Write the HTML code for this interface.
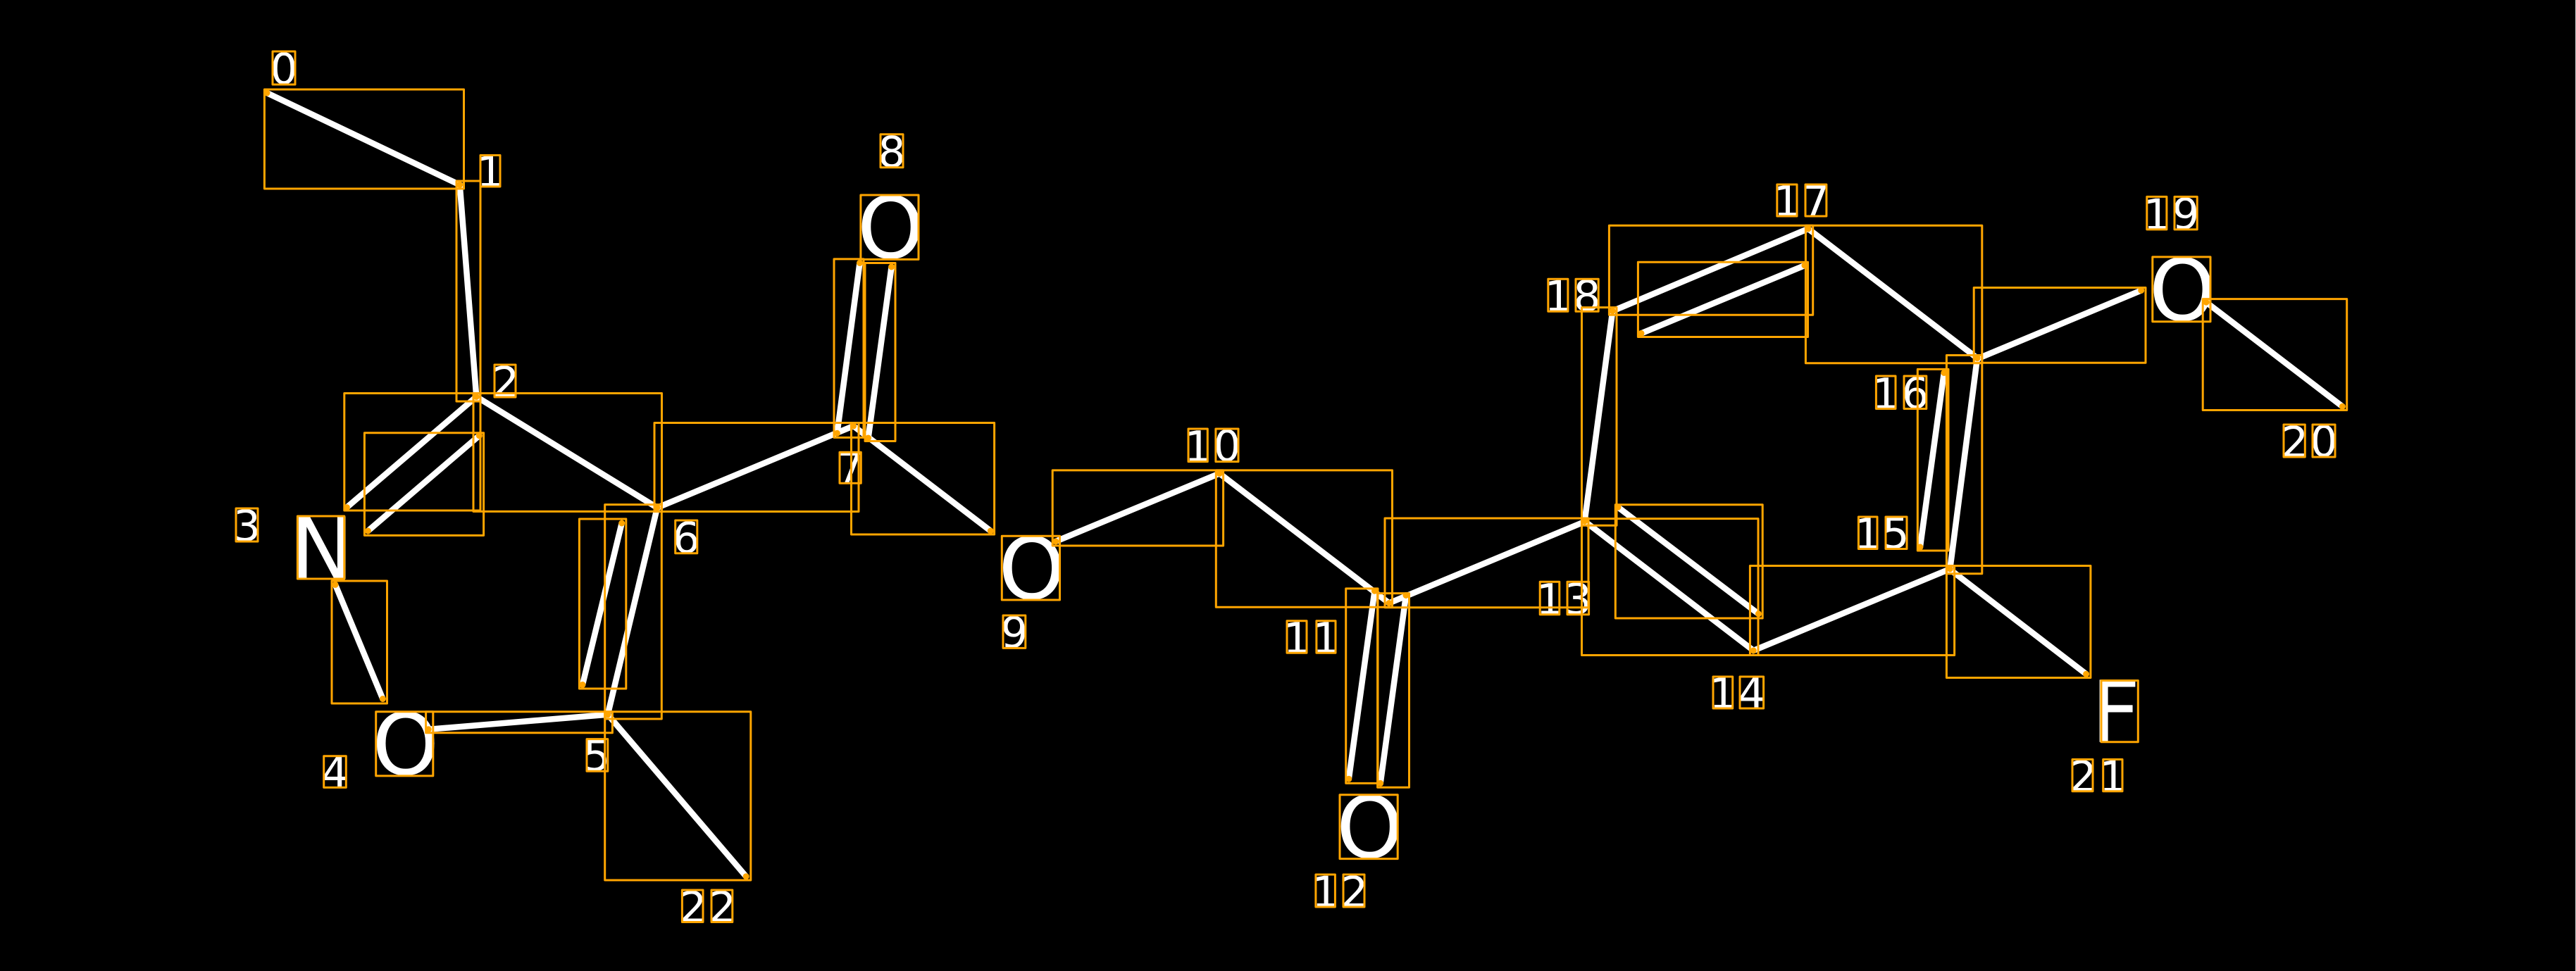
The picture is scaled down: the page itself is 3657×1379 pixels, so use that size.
<!DOCTYPE html>
<html><head><meta charset="utf-8"><style>
html,body{margin:0;padding:0;background:#000;width:3657px;height:1379px;overflow:hidden}
svg{display:block}
text{font-family:"DejaVu Sans","Liberation Sans",sans-serif;fill:#fff;text-anchor:middle}
.d{font-size:61px}.a{font-size:121px}
.o rect{fill:none;stroke:#ffa500;stroke-width:3;stroke-linejoin:round}
</style></head><body>
<svg width="3657" height="1379" viewBox="0 0 3657 1379" xmlns="http://www.w3.org/2000/svg">
<rect width="3657" height="1379" fill="#000"/>
<rect x="3656" y="0" width="1" height="1379" fill="#ccc"/>
<g>
<text class="d" x="403" y="119">0</text>
<text class="d" x="696" y="265">1</text>
<text class="d" x="717.8" y="564">2</text>
<text class="d" x="350.5" y="768">3</text>
<text class="d" x="475.5" y="1118.4">4</text>
<text class="d" x="847" y="1094.3">5</text>
<text class="d" x="974.2" y="785">6</text>
<text class="d" x="1207" y="686.2">7</text>
<text class="d" x="1266" y="237">8</text>
<text class="d" x="1440" y="919.5">9</text>
<text class="d" x="1700.6" y="655.6">1</text><text class="d" x="1742" y="654.7">0</text>
<text class="d" x="1841" y="927.3">1</text><text class="d" x="1882.4" y="927.3">1</text>
<text class="d" x="1881.6" y="1288">1</text><text class="d" x="1922.8" y="1288">2</text>
<text class="d" x="2200" y="872.7">1</text><text class="d" x="2240.3" y="871.8">3</text>
<text class="d" x="2445.8" y="1006">1</text><text class="d" x="2486.8" y="1006">4</text>
<text class="d" x="2651.7" y="779.5">1</text><text class="d" x="2691.1" y="778.6">5</text>
<text class="d" x="2677" y="580.5">1</text><text class="d" x="2719" y="579.6">6</text>
<text class="d" x="2537" y="307">1</text><text class="d" x="2578" y="307">7</text>
<text class="d" x="2212" y="442.2">1</text><text class="d" x="2253" y="441.3">8</text>
<text class="d" x="3062" y="325.9">1</text><text class="d" x="3103" y="325">9</text>
<text class="d" x="3257.8" y="649">2</text><text class="d" x="3299" y="648">0</text>
<text class="d" x="2957.3" y="1123.8">2</text><text class="d" x="2999.4" y="1123.8">1</text>
<text class="d" x="983.9" y="1309.5">2</text><text class="d" x="1025.6" y="1309.5">2</text>
<text class="a" x="457.1" y="822">N</text>
<text class="a" x="575.7" y="1100.2">O</text>
<text class="a" x="1264.5" y="366.7">O</text>
<text class="a" x="1464.9" y="850.3">O</text>
<text class="a" x="1944.6" y="1217.9">O</text>
<text class="a" x="3098.4" y="455.1">O</text>
<text class="a" x="3003.5" y="1053.8">F</text>
</g>
<path fill="none" stroke="#fff" stroke-width="8.5" stroke-linecap="round" d="M379 132L652.7 262.5L676.3 563.4L492.3 720.6M680.4 618.7L522.4 754M676.3 563.4L933 721L1211.6 605L1406.3 754M476 830.4L543.4 992.5M608.2 1035.8L862.8 1014.8L933 721M882.7 743L827 972.4M862.8 1014.8L1059.2 1244.7M1220.5 373.5L1188.4 615.3M1265.6 379L1232.6 622M1498.7 768.9L1731.3 672.4L1972 856.5L2249.5 741M1951.5 839.2L1914.8 1106.2M1996 845.5L1959.7 1112.4M2289.3 441.7L2249.6 740.2L2489.3 923.9L2768.3 808L2807 508.6L2567 324.9L2289.3 441.7M2296.9 720.3L2496.4 871.8M2759.8 529.5L2725.9 776.9M2562 377L2330 473.4M2807 509.6L3039.7 412.5M3132 429.2L3325.4 577.3M2768.3 808.7L2961.6 957.3"/>
<path fill="none" stroke="#ffa500" stroke-width="9" stroke-linecap="round" d="M379 132h0M652.7 262.5h0M676.3 563.4h0M492.3 720.6h0M680.4 618.7h0M522.4 754h0M933 721h0M476 830.4h0M543.4 992.5h0M608.2 1035.8h0M862.8 1014.8h0M882.7 743h0M827 972.4h0M1059.2 1244.7h0M1211.6 605h0M1220.5 373.5h0M1188.4 615.3h0M1265.6 379h0M1232.6 622h0M1406.3 754h0M1498.7 768.9h0M1731.3 672.4h0M1972 856.5h0M1951.5 839.2h0M1914.8 1106.2h0M1996 845.5h0M1959.7 1112.4h0M2249.6 740.2h0M2489.3 923.9h0M2296.9 720.3h0M2496.4 871.8h0M2289.3 441.7h0M2768.3 808h0M2807 508.6h0M2759.8 529.5h0M2725.9 776.9h0M2567 324.9h0M2562 377h0M2330 473.4h0M3039.7 412.5h0M3132 429.2h0M3325.4 577.3h0M2961.6 957.3h0"/>
<g class="o">
<rect x="375.4" y="127" width="283.1" height="141"/>
<rect x="648" y="257" width="34" height="313"/>
<rect x="488.8" y="558.5" width="193.2" height="166.5"/>
<rect x="672" y="558.5" width="267.5" height="167.9"/>
<rect x="517.4" y="614.7" width="169.2" height="145.7"/>
<rect x="471" y="825" width="78.5" height="174"/>
<rect x="604.6" y="1010.8" width="264.8" height="29.9"/>
<rect x="858.7" y="716.6" width="80.6" height="304.4"/>
<rect x="822.4" y="737" width="66.4" height="241"/>
<rect x="858.7" y="1010.8" width="207.1" height="239.2"/>
<rect x="929" y="600.5" width="290" height="126"/>
<rect x="1184" y="367.9" width="42" height="253.5"/>
<rect x="1228" y="373.5" width="43" height="253"/>
<rect x="1208.5" y="600.5" width="203.1" height="158.5"/>
<rect x="1494.2" y="667.9" width="242.4" height="107.1"/>
<rect x="1726.3" y="667.9" width="250.2" height="194.3"/>
<rect x="1966" y="736" width="289" height="126.7"/>
<rect x="1910.7" y="835.9" width="45.3" height="276.5"/>
<rect x="1955.6" y="842.6" width="44.9" height="275.6"/>
<rect x="2245.5" y="736.6" width="250.5" height="193.9"/>
<rect x="2245.5" y="436.6" width="49.5" height="309.7"/>
<rect x="2293.3" y="716.7" width="208.9" height="161.3"/>
<rect x="2484.4" y="803.5" width="290.2" height="127"/>
<rect x="2763.4" y="504.5" width="50.4" height="310.2"/>
<rect x="2722.3" y="524.4" width="43.7" height="257.6"/>
<rect x="2284.4" y="320.3" width="289.3" height="127"/>
<rect x="2563.4" y="320.3" width="250.4" height="195.4"/>
<rect x="2325.4" y="372.3" width="241.1" height="106.2"/>
<rect x="2802.2" y="408.5" width="243.8" height="106.8"/>
<rect x="3127.2" y="424.6" width="204.5" height="157.9"/>
<rect x="2763.4" y="803.5" width="204.5" height="159"/>
<rect x="422.4" y="733" width="66.4" height="89"/>
<rect x="533.7" y="1010.8" width="81.1" height="91.1"/>
<rect x="1221.9" y="277" width="82.1" height="91.4"/>
<rect x="1422.3" y="761.2" width="82.2" height="90.8"/>
<rect x="1902" y="1128.7" width="82.2" height="90.9"/>
<rect x="3055.8" y="364.9" width="82.2" height="91.9"/>
<rect x="2983" y="966.5" width="52.3" height="87.3"/>
<rect x="387" y="73" width="32" height="47"/>
<rect x="682" y="220.5" width="28" height="44.5"/>
<rect x="702" y="518" width="30" height="46"/>
<rect x="335" y="722" width="31" height="47"/>
<rect x="459.7" y="1073.8" width="31.6" height="44.6"/>
<rect x="833" y="1049.6" width="29.8" height="45.6"/>
<rect x="958.7" y="739" width="31.1" height="46.8"/>
<rect x="1192" y="642.3" width="30.3" height="43.9"/>
<rect x="1250" y="190.8" width="32" height="47"/>
<rect x="1424" y="874" width="31.8" height="46.4"/>
<rect x="1687" y="609" width="27.3" height="46.6"/><rect x="1725.9" y="609" width="32.1" height="46.6"/>
<rect x="1827" y="881.8" width="28" height="45.5"/><rect x="1868.9" y="881.8" width="27.1" height="45.5"/>
<rect x="1867.9" y="1242" width="27.5" height="46"/><rect x="1907" y="1242" width="30" height="46"/>
<rect x="2186.2" y="826.3" width="27.6" height="46.4"/><rect x="2225" y="826.3" width="30.6" height="46.4"/>
<rect x="2432" y="961" width="27.7" height="45"/><rect x="2470" y="961" width="33.6" height="45"/>
<rect x="2638.4" y="734" width="26.6" height="45.5"/><rect x="2677" y="734" width="30" height="45.5"/>
<rect x="2663.4" y="534" width="27.6" height="46.5"/><rect x="2703" y="534" width="31.8" height="46.5"/>
<rect x="2522.8" y="262" width="28.2" height="45"/><rect x="2563" y="262" width="29.9" height="45"/>
<rect x="2197.8" y="396.3" width="28.1" height="45.9"/><rect x="2237" y="396.3" width="32.2" height="45.9"/>
<rect x="3047.8" y="279.4" width="28.1" height="46.5"/><rect x="3087" y="279.4" width="32.2" height="46.5"/>
<rect x="3242" y="603" width="30.3" height="46"/><rect x="3283" y="603" width="32" height="46"/>
<rect x="2942" y="1078.5" width="29" height="45.3"/><rect x="2985.7" y="1078.5" width="27.3" height="45.3"/>
<rect x="968.4" y="1264" width="29.6" height="45.5"/><rect x="1010" y="1264" width="29.8" height="45.5"/>
</g>
</svg>
</body></html>
